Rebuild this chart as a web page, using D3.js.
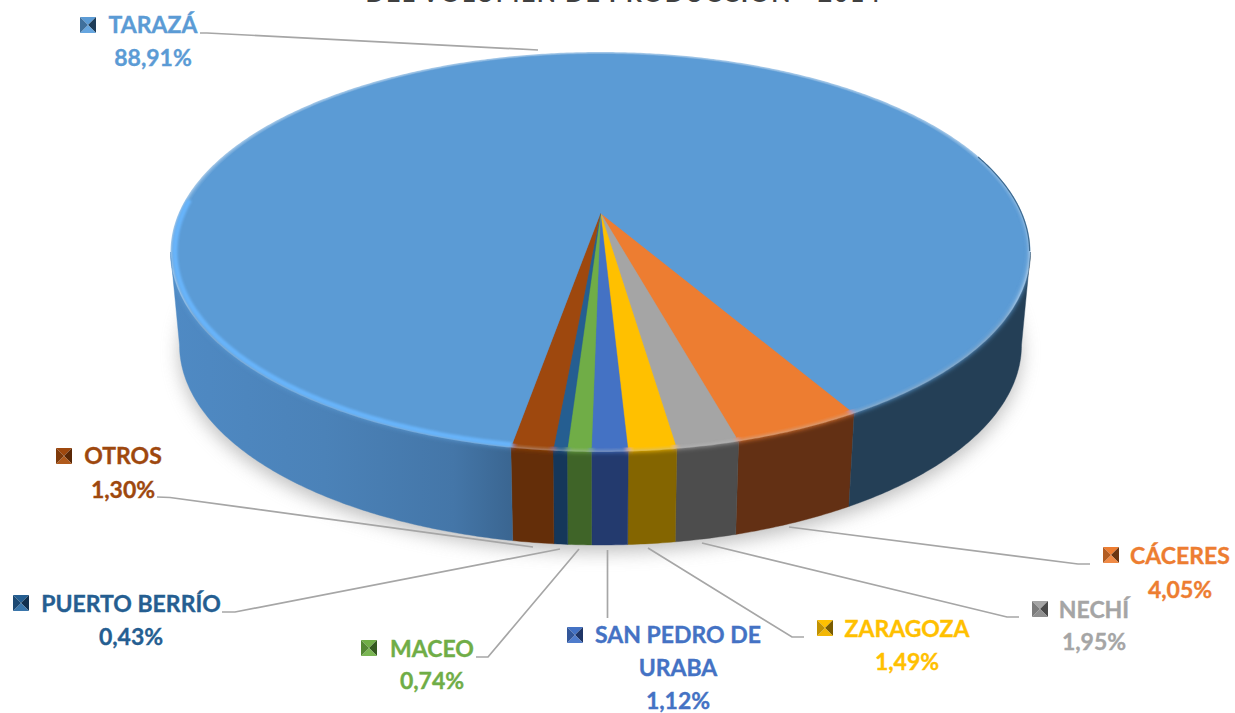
<!DOCTYPE html>
<html><head><meta charset="utf-8">
<script src="https://cdn.jsdelivr.net/npm/d3@7"></script>
<style>html,body{margin:0;padding:0;background:#fff}svg{display:block}text{font-family:Lato,"Open Sans",sans-serif;font-weight:700}</style>
</head><body><svg id="c" width="1235" height="713"></svg>
<script>
// ---- data (clockwise order, as drawn) ----
const categories = ["CÁCERES","NECHÍ","ZARAGOZA","SAN PEDRO DE URABA","MACEO","PUERTO BERRÍO","OTROS","TARAZÁ"];
const shares     = [4.05,1.95,1.49,1.12,0.74,0.43,1.30,88.91];
const shareTexts = ["4,05%","1,95%","1,49%","1,12%","0,74%","0,43%","1,30%","88,91%"];
const titleText  = "DEL VOLUMEN DE PRODUCCIÓN - 2014";

// ---- style ----
const topColors  = ["#ed7d31","#a5a5a5","#ffc000","#4472c4","#70ad47","#255e91","#9e480e","#5b9bd5"];
const wallColors = ["#633014","#4d4d4d","#846500","#233a6e","#3f6428","#15375a","#642e09","url(#wallBlue)"];
const markDark   = ["#6b3510","#4a4a4a","#7a5c00","#1f3566","#345a20","#12304f","#5a2806","#1d3c58"];
const markLight  = ["#f08a45","#8f8f8f","#f2b705","#4f7ccc","#7ab653","#3a76ab","#b05a1c","#66a6e0"];

// ---- layout ----
const labelLayout = [
  {lines:[[1180,564]], pct:[1180,598], mark:[1103,547]},
  {lines:[[1094,618]], pct:[1094,650], mark:[1032,601]},
  {lines:[[907,637]],  pct:[907,670],  mark:[817,620]},
  {lines:[[678,643],[678,676]], pct:[678,709], mark:[567,627], split:["SAN PEDRO DE","URABA"]},
  {lines:[[432,657]],  pct:[432,689],  mark:[361,640]},
  {lines:[[131,612]],  pct:[131,645],  mark:[13,595]},
  {lines:[[123,464]],  pct:[123,498],  mark:[56,448]},
  {lines:[[153,33]],   pct:[153,66],   mark:[80,17]}
];
const leaders = [
  [[1090,564],[1078,564],[789,527]],
  [[1019,617],[1007,617],[702,543]],
  [[804,637],[792,637],[648,548]],
  [[607.5,618],[607.5,550]],
  [[476,657],[488,657],[579,549]],
  [[222,612],[235,612],[560,549]],
  [[157,497],[170,497.5],[533,547]],
  [[200,33],[207,33],[538,50]]
];

const svg = d3.select("#c");
const defs = svg.append("defs");
const blur = (id,s)=>defs.append("filter").attr("id",id).attr("x","-10%").attr("y","-10%").attr("width","120%").attr("height","120%")
  .append("feGaussianBlur").attr("stdDeviation",s);
blur("soft",9); blur("rim",2.6); blur("hl",1.3); blur("edge",0.7);

const wg = defs.append("linearGradient").attr("id","wallBlue").attr("gradientUnits","userSpaceOnUse")
  .attr("x1",170).attr("x2",1030).attr("y1",0).attr("y2",0);
[[0,"#4f8ac4"],[0.18,"#4b82b8"],[0.33,"#4476a8"],[0.4,"#3a6590"],[0.4,"#243f56"],[1,"#243f56"]]
  .forEach(s=>wg.append("stop").attr("offset",s[0]).attr("stop-color",s[1]));

// ---- scales: unit disc → top and bottom ellipses of the drum ----
const xTop = d3.scaleLinear([-1,1],[170.5,1030.5]);
const yTop = d3.scaleLinear([-1,1],[52,452]);
const xBot = d3.scaleLinear([-1,1],[179.5,1021.5]);
const yBot = d3.scaleLinear([-1,1],[145,545]);
const persp = -0.195;            // apex sits above the ellipse centre
const k = Math.sqrt(1-persp*persp);
// d3.pie angle (clockwise from 12 o'clock) → perspective point on the unit disc
function disc(phi,r=1){
  const u=r*Math.sin(phi), v=-r*Math.cos(phi), d=1+persp*v;
  return [u*k/d,(v+persp)/d];
}
const onTop=(phi,r=1)=>{const p=disc(phi,r);return [xTop(p[0]),yTop(p[1])];};
const onBot=(phi)=>{const p=disc(phi);return [xBot(p[0]),yBot(p[1])];};
const rad=d=>d*Math.PI/180;
const arcPts=(a,b,f)=>{const n=Math.max(2,Math.ceil(Math.abs(b-a)/rad(0.5)));return d3.range(n+1).map(i=>f(a+(b-a)*i/n));};
const line=d3.line();

const start=rad(150);
const pie=d3.pie().sort(null).value(d=>d).startAngle(start).endAngle(start+2*Math.PI);
const arcs=pie(shares);

// shadow
svg.append("path")
  .attr("d",line(arcPts(0,2*Math.PI,onBot))+"Z")
  .attr("fill","#9a9a9a").attr("opacity",0.62).attr("transform","translate(0,7)")
  .attr("filter","url(#soft)");

// visible wall range, front of the silhouette tangents
const visHalf=Math.acos(-persp);
const frontLo=Math.PI-visHalf, frontHi=Math.PI+visHalf;
const wall=svg.append("g");
arcs.forEach((a,i)=>{
  [0,2*Math.PI].forEach(off=>{
    const s=Math.max(a.startAngle-off,frontLo), e=Math.min(a.endAngle-off,frontHi);
    if(e<=s) return;
    const pts=arcPts(s,e,onTop).concat(arcPts(e,s,onBot));
    wall.append("path").attr("d",line(pts)+"Z").attr("fill",wallColors[i])
      .attr("stroke",wallColors[i]).attr("stroke-width",0.4);
  });
});

// top face: a soft rim layer clipped to the drum silhouette, then the crisp face
const wedge=(a,r)=>line([onTop(0,0)].concat(arcPts(a.startAngle,a.endAngle,p=>onTop(p,r))))+"Z";
const cp=defs.append("clipPath").attr("id","faceClip");
cp.append("path").attr("d",line(arcPts(0,2*Math.PI,onTop))+"Z");
cp.append("path").attr("d",line(arcPts(frontLo,frontHi,onTop).concat(arcPts(frontHi,frontLo,onBot)))+"Z");
const soft=svg.append("g").attr("clip-path","url(#faceClip)").append("g").attr("filter","url(#rim)");
arcs.forEach((a,i)=>soft.append("path").attr("d",wedge(a,1)).attr("fill",topColors[i]));
const face=svg.append("g");
arcs.forEach((a,i)=>face.append("path").attr("d",wedge(a,0.985)).attr("fill",topColors[i])
  .attr("stroke",topColors[i]).attr("stroke-width",0.4));

// rim highlight (left) and dark edge (right back)
const tz=arcs[arcs.length-1];
const clipTop=defs.append("clipPath").attr("id","topClip");
clipTop.append("path").attr("d",line(arcPts(0,2*Math.PI,onTop))+"Z");
svg.append("g").attr("clip-path","url(#topClip)").append("path")
  .attr("d",line(arcPts(tz.startAngle,rad(274),p=>onTop(p,0.99))))
  .attr("fill","none").attr("stroke","#68b4fa").attr("stroke-width",5).attr("filter","url(#hl)");
svg.append("path").attr("d",line(arcPts(rad(72),rad(101),p=>onTop(p,0.998))))
  .attr("fill","none").attr("stroke","#3d6a90").attr("stroke-width",1.2).attr("filter","url(#edge)");

// leaders
svg.append("g").selectAll("path").data(leaders).join("path")
  .attr("d",d=>line(d)).attr("fill","none").attr("stroke","#a6a6a6").attr("stroke-width",1.7);

// labels
const fs=23, mk=16;
const labels=svg.append("g");
const put=(x,y,t,col)=>labels.append("text").attr("x",x).attr("y",y).attr("text-anchor","middle")
  .attr("font-size",fs).attr("fill",col).attr("stroke",col).attr("stroke-width",0.35).text(t);
categories.forEach((c,i)=>{
  const L=labelLayout[i], col=topColors[i];
  (L.split||[c]).forEach((t,j)=>put(L.lines[j][0],L.lines[j][1],t,col));
  put(L.pct[0],L.pct[1],shareTexts[i],col);
  // pyramid legend marker
  const [mx,my]=L.mark, cx=mx+mk/2, cy=my+mk/2;
  const tri=(a,b,f)=>labels.append("path").attr("d",line([a,b,[cx,cy]])+"Z").attr("fill",f);
  tri([mx,my],[mx+mk,my],col);
  tri([mx+mk,my],[mx+mk,my+mk],markDark[i]);
  tri([mx+mk,my+mk],[mx,my+mk],markLight[i]);
  tri([mx,my+mk],[mx,my],d3.interpolateRgb(col,markDark[i])(0.45));
});

// title, cropped by the top of the image as in the source
svg.append("text").attr("x",623.5).attr("y",2).attr("text-anchor","middle")
  .attr("font-size",25).attr("fill","#404040").attr("letter-spacing",1.45).text(titleText);
</script></body></html>
